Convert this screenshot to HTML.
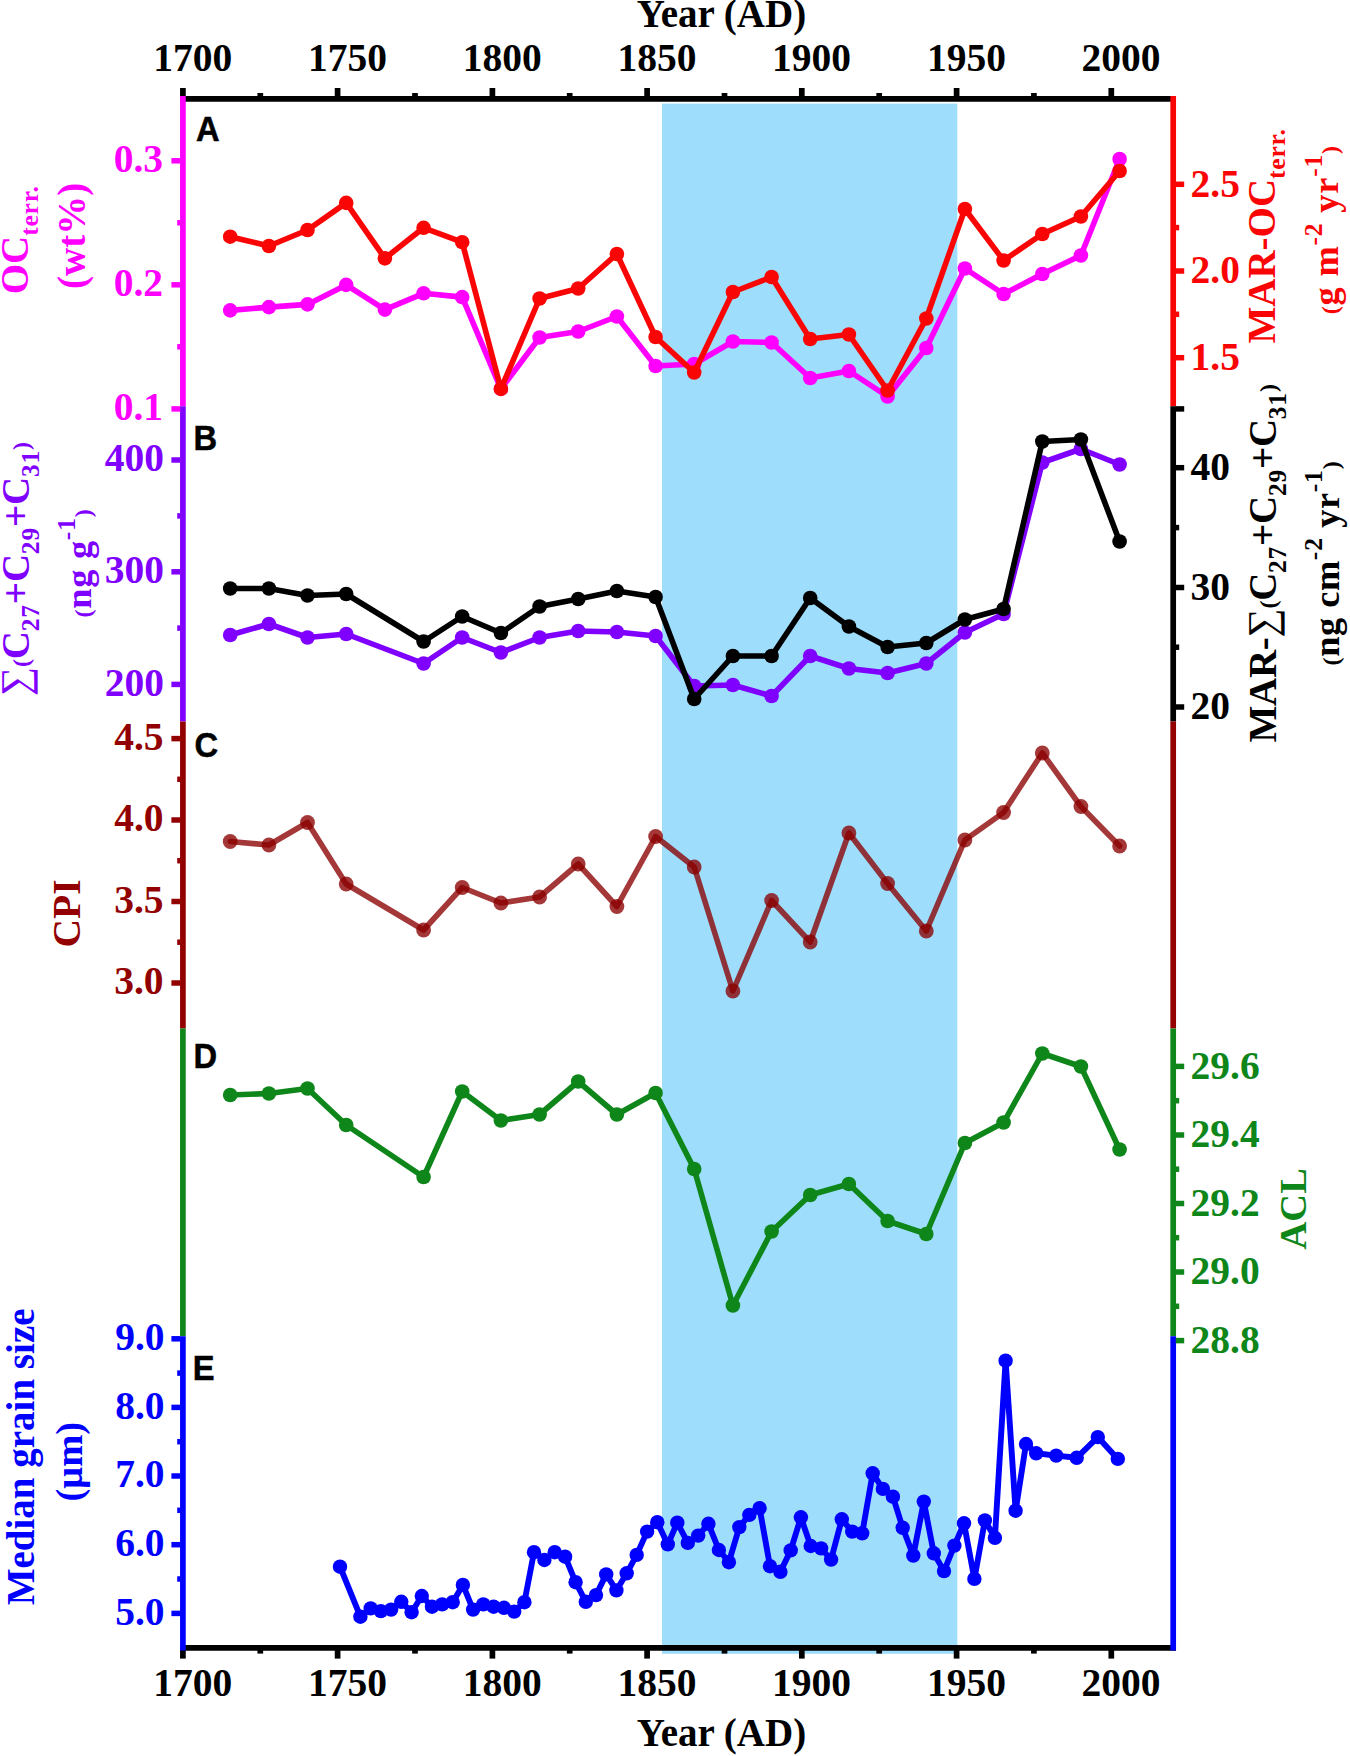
<!DOCTYPE html>
<html lang="en"><head><meta charset="utf-8"><title>Sediment core proxies vs Year (AD)</title>
<style>
html,body{margin:0;padding:0;background:#fff;}
svg{display:block;}
text{font-family:"Liberation Serif","Times New Roman",serif;font-weight:bold;}
.tk{font-size:39.5px;}
.ttl{font-size:39px;}
.pl{font-family:"Liberation Sans",Arial,sans-serif;font-weight:bold;font-size:34.8px;fill:#000;stroke:#000;stroke-width:0.5px;}
.n{font-weight:normal;}
</style></head><body>
<svg width="1350" height="1756" viewBox="0 0 1350 1756">
<rect x="0" y="0" width="1350" height="1756" fill="#ffffff"/>
<rect x="662" y="103.6" width="295.3" height="1550.2" fill="#9EDEFC"/>
<g fill="#FF00FF" stroke="none">
<polyline points="230.2,310.4 268.9,307.1 307.5,304.4 346.2,284.9 384.9,309.6 423.6,293.3 462.2,297.1 500.9,388.9 539.6,337.5 578.2,331.5 616.9,316.5 655.6,366.0 694.2,364.0 732.9,341.5 771.6,342.5 810.2,378.0 848.9,371.0 887.6,396.5 926.3,348.0 964.9,268.5 1003.6,294.0 1042.3,274.0 1080.9,255.5 1119.6,159.0" fill="none" stroke="#FF00FF" stroke-width="5.6" stroke-linejoin="round" stroke-linecap="round"/>
<circle cx="230.2" cy="310.4" r="7.3"/>
<circle cx="268.9" cy="307.1" r="7.3"/>
<circle cx="307.5" cy="304.4" r="7.3"/>
<circle cx="346.2" cy="284.9" r="7.3"/>
<circle cx="384.9" cy="309.6" r="7.3"/>
<circle cx="423.6" cy="293.3" r="7.3"/>
<circle cx="462.2" cy="297.1" r="7.3"/>
<circle cx="500.9" cy="388.9" r="7.3"/>
<circle cx="539.6" cy="337.5" r="7.3"/>
<circle cx="578.2" cy="331.5" r="7.3"/>
<circle cx="616.9" cy="316.5" r="7.3"/>
<circle cx="655.6" cy="366.0" r="7.3"/>
<circle cx="694.2" cy="364.0" r="7.3"/>
<circle cx="732.9" cy="341.5" r="7.3"/>
<circle cx="771.6" cy="342.5" r="7.3"/>
<circle cx="810.2" cy="378.0" r="7.3"/>
<circle cx="848.9" cy="371.0" r="7.3"/>
<circle cx="887.6" cy="396.5" r="7.3"/>
<circle cx="926.3" cy="348.0" r="7.3"/>
<circle cx="964.9" cy="268.5" r="7.3"/>
<circle cx="1003.6" cy="294.0" r="7.3"/>
<circle cx="1042.3" cy="274.0" r="7.3"/>
<circle cx="1080.9" cy="255.5" r="7.3"/>
<circle cx="1119.6" cy="159.0" r="7.3"/>
</g>
<g fill="#FA0505" stroke="none">
<polyline points="230.2,236.7 268.9,246.0 307.5,230.0 346.2,202.9 384.9,258.4 423.6,227.8 462.2,242.2 500.9,388.9 539.6,298.5 578.2,288.5 616.9,254.0 655.6,337.0 694.2,372.5 732.9,292.0 771.6,277.0 810.2,339.0 848.9,334.5 887.6,390.5 926.3,318.5 964.9,209.0 1003.6,260.5 1042.3,234.0 1080.9,216.5 1119.6,171.0" fill="none" stroke="#FA0505" stroke-width="5.6" stroke-linejoin="round" stroke-linecap="round"/>
<circle cx="230.2" cy="236.7" r="7.3"/>
<circle cx="268.9" cy="246.0" r="7.3"/>
<circle cx="307.5" cy="230.0" r="7.3"/>
<circle cx="346.2" cy="202.9" r="7.3"/>
<circle cx="384.9" cy="258.4" r="7.3"/>
<circle cx="423.6" cy="227.8" r="7.3"/>
<circle cx="462.2" cy="242.2" r="7.3"/>
<circle cx="500.9" cy="388.9" r="7.3"/>
<circle cx="539.6" cy="298.5" r="7.3"/>
<circle cx="578.2" cy="288.5" r="7.3"/>
<circle cx="616.9" cy="254.0" r="7.3"/>
<circle cx="655.6" cy="337.0" r="7.3"/>
<circle cx="694.2" cy="372.5" r="7.3"/>
<circle cx="732.9" cy="292.0" r="7.3"/>
<circle cx="771.6" cy="277.0" r="7.3"/>
<circle cx="810.2" cy="339.0" r="7.3"/>
<circle cx="848.9" cy="334.5" r="7.3"/>
<circle cx="887.6" cy="390.5" r="7.3"/>
<circle cx="926.3" cy="318.5" r="7.3"/>
<circle cx="964.9" cy="209.0" r="7.3"/>
<circle cx="1003.6" cy="260.5" r="7.3"/>
<circle cx="1042.3" cy="234.0" r="7.3"/>
<circle cx="1080.9" cy="216.5" r="7.3"/>
<circle cx="1119.6" cy="171.0" r="7.3"/>
</g>
<g fill="#7F00FF" stroke="none">
<polyline points="230.2,635.0 268.9,624.0 307.5,637.5 346.2,634.0 423.6,663.5 462.2,637.5 500.9,652.5 539.6,637.5 578.2,631.0 616.9,632.0 655.6,636.0 694.2,686.0 732.9,685.0 771.6,696.0 810.2,656.0 848.9,668.5 887.6,673.0 926.3,663.5 964.9,632.5 1003.6,614.0 1042.3,462.5 1080.9,449.0 1119.6,464.5" fill="none" stroke="#7F00FF" stroke-width="5.6" stroke-linejoin="round" stroke-linecap="round"/>
<circle cx="230.2" cy="635.0" r="7.3"/>
<circle cx="268.9" cy="624.0" r="7.3"/>
<circle cx="307.5" cy="637.5" r="7.3"/>
<circle cx="346.2" cy="634.0" r="7.3"/>
<circle cx="423.6" cy="663.5" r="7.3"/>
<circle cx="462.2" cy="637.5" r="7.3"/>
<circle cx="500.9" cy="652.5" r="7.3"/>
<circle cx="539.6" cy="637.5" r="7.3"/>
<circle cx="578.2" cy="631.0" r="7.3"/>
<circle cx="616.9" cy="632.0" r="7.3"/>
<circle cx="655.6" cy="636.0" r="7.3"/>
<circle cx="694.2" cy="686.0" r="7.3"/>
<circle cx="732.9" cy="685.0" r="7.3"/>
<circle cx="771.6" cy="696.0" r="7.3"/>
<circle cx="810.2" cy="656.0" r="7.3"/>
<circle cx="848.9" cy="668.5" r="7.3"/>
<circle cx="887.6" cy="673.0" r="7.3"/>
<circle cx="926.3" cy="663.5" r="7.3"/>
<circle cx="964.9" cy="632.5" r="7.3"/>
<circle cx="1003.6" cy="614.0" r="7.3"/>
<circle cx="1042.3" cy="462.5" r="7.3"/>
<circle cx="1080.9" cy="449.0" r="7.3"/>
<circle cx="1119.6" cy="464.5" r="7.3"/>
</g>
<g fill="#000000" stroke="none">
<polyline points="230.2,588.5 268.9,588.5 307.5,595.5 346.2,594.0 423.6,641.5 462.2,616.5 500.9,633.0 539.6,606.5 578.2,599.0 616.9,591.0 655.6,597.0 694.2,699.0 732.9,656.0 771.6,656.0 810.2,598.0 848.9,626.5 887.6,647.0 926.3,643.0 964.9,619.5 1003.6,609.0 1042.3,441.5 1080.9,439.5 1119.6,541.5" fill="none" stroke="#000000" stroke-width="5.6" stroke-linejoin="round" stroke-linecap="round"/>
<circle cx="230.2" cy="588.5" r="7.3"/>
<circle cx="268.9" cy="588.5" r="7.3"/>
<circle cx="307.5" cy="595.5" r="7.3"/>
<circle cx="346.2" cy="594.0" r="7.3"/>
<circle cx="423.6" cy="641.5" r="7.3"/>
<circle cx="462.2" cy="616.5" r="7.3"/>
<circle cx="500.9" cy="633.0" r="7.3"/>
<circle cx="539.6" cy="606.5" r="7.3"/>
<circle cx="578.2" cy="599.0" r="7.3"/>
<circle cx="616.9" cy="591.0" r="7.3"/>
<circle cx="655.6" cy="597.0" r="7.3"/>
<circle cx="694.2" cy="699.0" r="7.3"/>
<circle cx="732.9" cy="656.0" r="7.3"/>
<circle cx="771.6" cy="656.0" r="7.3"/>
<circle cx="810.2" cy="598.0" r="7.3"/>
<circle cx="848.9" cy="626.5" r="7.3"/>
<circle cx="887.6" cy="647.0" r="7.3"/>
<circle cx="926.3" cy="643.0" r="7.3"/>
<circle cx="964.9" cy="619.5" r="7.3"/>
<circle cx="1003.6" cy="609.0" r="7.3"/>
<circle cx="1042.3" cy="441.5" r="7.3"/>
<circle cx="1080.9" cy="439.5" r="7.3"/>
<circle cx="1119.6" cy="541.5" r="7.3"/>
</g>
<g fill="#8B0000" fill-opacity="0.78" stroke="none">
<polyline points="230.2,841.5 268.9,845.0 307.5,822.5 346.2,884.0 423.6,930.0 462.2,887.5 500.9,903.0 539.6,897.0 578.2,864.0 616.9,906.5 655.6,836.5 694.2,867.0 732.9,991.0 771.6,900.5 810.2,942.0 848.9,833.0 887.6,883.5 926.3,931.0 964.9,840.0 1003.6,812.5 1042.3,753.0 1080.9,806.5 1119.6,846.0" fill="none" stroke="#8B0000" stroke-opacity="0.78" stroke-width="5.6" stroke-linejoin="round" stroke-linecap="round"/>
<circle cx="230.2" cy="841.5" r="7.4"/>
<circle cx="268.9" cy="845.0" r="7.4"/>
<circle cx="307.5" cy="822.5" r="7.4"/>
<circle cx="346.2" cy="884.0" r="7.4"/>
<circle cx="423.6" cy="930.0" r="7.4"/>
<circle cx="462.2" cy="887.5" r="7.4"/>
<circle cx="500.9" cy="903.0" r="7.4"/>
<circle cx="539.6" cy="897.0" r="7.4"/>
<circle cx="578.2" cy="864.0" r="7.4"/>
<circle cx="616.9" cy="906.5" r="7.4"/>
<circle cx="655.6" cy="836.5" r="7.4"/>
<circle cx="694.2" cy="867.0" r="7.4"/>
<circle cx="732.9" cy="991.0" r="7.4"/>
<circle cx="771.6" cy="900.5" r="7.4"/>
<circle cx="810.2" cy="942.0" r="7.4"/>
<circle cx="848.9" cy="833.0" r="7.4"/>
<circle cx="887.6" cy="883.5" r="7.4"/>
<circle cx="926.3" cy="931.0" r="7.4"/>
<circle cx="964.9" cy="840.0" r="7.4"/>
<circle cx="1003.6" cy="812.5" r="7.4"/>
<circle cx="1042.3" cy="753.0" r="7.4"/>
<circle cx="1080.9" cy="806.5" r="7.4"/>
<circle cx="1119.6" cy="846.0" r="7.4"/>
</g>
<g fill="#0E861A" stroke="none">
<polyline points="230.2,1095.0 268.9,1093.5 307.5,1088.5 346.2,1125.0 423.6,1177.0 462.2,1091.5 500.9,1120.5 539.6,1114.5 578.2,1081.5 616.9,1114.5 655.6,1093.0 694.2,1169.0 732.9,1305.5 771.6,1231.5 810.2,1195.0 848.9,1184.0 887.6,1221.0 926.3,1234.0 964.9,1143.0 1003.6,1122.5 1042.3,1053.5 1080.9,1066.5 1119.6,1149.5" fill="none" stroke="#0E861A" stroke-width="5.6" stroke-linejoin="round" stroke-linecap="round"/>
<circle cx="230.2" cy="1095.0" r="7.3"/>
<circle cx="268.9" cy="1093.5" r="7.3"/>
<circle cx="307.5" cy="1088.5" r="7.3"/>
<circle cx="346.2" cy="1125.0" r="7.3"/>
<circle cx="423.6" cy="1177.0" r="7.3"/>
<circle cx="462.2" cy="1091.5" r="7.3"/>
<circle cx="500.9" cy="1120.5" r="7.3"/>
<circle cx="539.6" cy="1114.5" r="7.3"/>
<circle cx="578.2" cy="1081.5" r="7.3"/>
<circle cx="616.9" cy="1114.5" r="7.3"/>
<circle cx="655.6" cy="1093.0" r="7.3"/>
<circle cx="694.2" cy="1169.0" r="7.3"/>
<circle cx="732.9" cy="1305.5" r="7.3"/>
<circle cx="771.6" cy="1231.5" r="7.3"/>
<circle cx="810.2" cy="1195.0" r="7.3"/>
<circle cx="848.9" cy="1184.0" r="7.3"/>
<circle cx="887.6" cy="1221.0" r="7.3"/>
<circle cx="926.3" cy="1234.0" r="7.3"/>
<circle cx="964.9" cy="1143.0" r="7.3"/>
<circle cx="1003.6" cy="1122.5" r="7.3"/>
<circle cx="1042.3" cy="1053.5" r="7.3"/>
<circle cx="1080.9" cy="1066.5" r="7.3"/>
<circle cx="1119.6" cy="1149.5" r="7.3"/>
</g>
<g fill="#0000FF" stroke="none">
<polyline points="340.0,1566.7 360.4,1616.7 370.7,1608.4 380.9,1611.1 391.1,1609.6 401.3,1601.8 411.6,1612.2 421.8,1596.0 432.0,1606.7 442.2,1604.4 452.7,1602.2 462.9,1584.9 473.1,1609.6 483.3,1604.4 493.6,1606.7 504.0,1607.8 514.2,1611.6 524.4,1602.2 534.0,1552.2 544.4,1560.0 554.7,1552.2 565.1,1556.7 575.6,1582.2 585.8,1601.8 596.0,1595.1 606.2,1574.4 616.4,1590.4 626.7,1573.3 636.7,1554.9 647.1,1531.6 657.3,1522.2 667.8,1544.4 677.3,1522.7 687.8,1542.9 698.2,1535.6 708.4,1523.8 718.9,1550.0 728.9,1562.2 739.3,1527.1 749.3,1514.9 759.6,1508.2 770.0,1566.2 780.4,1571.8 790.7,1550.4 800.9,1517.3 810.7,1546.0 821.1,1548.4 831.1,1559.6 841.8,1519.3 852.2,1531.6 862.2,1533.3 872.7,1473.3 882.9,1488.9 892.9,1496.7 902.7,1527.8 913.3,1555.6 923.8,1501.6 933.8,1553.3 944.0,1571.1 954.4,1545.6 964.0,1523.3 974.4,1578.9 984.9,1520.4 994.9,1537.8 1005.6,1360.7 1015.6,1510.7 1026.0,1444.0 1036.2,1453.3 1056.2,1455.6 1076.7,1457.8 1097.8,1437.1 1117.8,1458.9" fill="none" stroke="#0000FF" stroke-width="5.9" stroke-linejoin="round" stroke-linecap="round"/>
<circle cx="340.0" cy="1566.7" r="7.2"/>
<circle cx="360.4" cy="1616.7" r="7.2"/>
<circle cx="370.7" cy="1608.4" r="7.2"/>
<circle cx="380.9" cy="1611.1" r="7.2"/>
<circle cx="391.1" cy="1609.6" r="7.2"/>
<circle cx="401.3" cy="1601.8" r="7.2"/>
<circle cx="411.6" cy="1612.2" r="7.2"/>
<circle cx="421.8" cy="1596.0" r="7.2"/>
<circle cx="432.0" cy="1606.7" r="7.2"/>
<circle cx="442.2" cy="1604.4" r="7.2"/>
<circle cx="452.7" cy="1602.2" r="7.2"/>
<circle cx="462.9" cy="1584.9" r="7.2"/>
<circle cx="473.1" cy="1609.6" r="7.2"/>
<circle cx="483.3" cy="1604.4" r="7.2"/>
<circle cx="493.6" cy="1606.7" r="7.2"/>
<circle cx="504.0" cy="1607.8" r="7.2"/>
<circle cx="514.2" cy="1611.6" r="7.2"/>
<circle cx="524.4" cy="1602.2" r="7.2"/>
<circle cx="534.0" cy="1552.2" r="7.2"/>
<circle cx="544.4" cy="1560.0" r="7.2"/>
<circle cx="554.7" cy="1552.2" r="7.2"/>
<circle cx="565.1" cy="1556.7" r="7.2"/>
<circle cx="575.6" cy="1582.2" r="7.2"/>
<circle cx="585.8" cy="1601.8" r="7.2"/>
<circle cx="596.0" cy="1595.1" r="7.2"/>
<circle cx="606.2" cy="1574.4" r="7.2"/>
<circle cx="616.4" cy="1590.4" r="7.2"/>
<circle cx="626.7" cy="1573.3" r="7.2"/>
<circle cx="636.7" cy="1554.9" r="7.2"/>
<circle cx="647.1" cy="1531.6" r="7.2"/>
<circle cx="657.3" cy="1522.2" r="7.2"/>
<circle cx="667.8" cy="1544.4" r="7.2"/>
<circle cx="677.3" cy="1522.7" r="7.2"/>
<circle cx="687.8" cy="1542.9" r="7.2"/>
<circle cx="698.2" cy="1535.6" r="7.2"/>
<circle cx="708.4" cy="1523.8" r="7.2"/>
<circle cx="718.9" cy="1550.0" r="7.2"/>
<circle cx="728.9" cy="1562.2" r="7.2"/>
<circle cx="739.3" cy="1527.1" r="7.2"/>
<circle cx="749.3" cy="1514.9" r="7.2"/>
<circle cx="759.6" cy="1508.2" r="7.2"/>
<circle cx="770.0" cy="1566.2" r="7.2"/>
<circle cx="780.4" cy="1571.8" r="7.2"/>
<circle cx="790.7" cy="1550.4" r="7.2"/>
<circle cx="800.9" cy="1517.3" r="7.2"/>
<circle cx="810.7" cy="1546.0" r="7.2"/>
<circle cx="821.1" cy="1548.4" r="7.2"/>
<circle cx="831.1" cy="1559.6" r="7.2"/>
<circle cx="841.8" cy="1519.3" r="7.2"/>
<circle cx="852.2" cy="1531.6" r="7.2"/>
<circle cx="862.2" cy="1533.3" r="7.2"/>
<circle cx="872.7" cy="1473.3" r="7.2"/>
<circle cx="882.9" cy="1488.9" r="7.2"/>
<circle cx="892.9" cy="1496.7" r="7.2"/>
<circle cx="902.7" cy="1527.8" r="7.2"/>
<circle cx="913.3" cy="1555.6" r="7.2"/>
<circle cx="923.8" cy="1501.6" r="7.2"/>
<circle cx="933.8" cy="1553.3" r="7.2"/>
<circle cx="944.0" cy="1571.1" r="7.2"/>
<circle cx="954.4" cy="1545.6" r="7.2"/>
<circle cx="964.0" cy="1523.3" r="7.2"/>
<circle cx="974.4" cy="1578.9" r="7.2"/>
<circle cx="984.9" cy="1520.4" r="7.2"/>
<circle cx="994.9" cy="1537.8" r="7.2"/>
<circle cx="1005.6" cy="1360.7" r="7.2"/>
<circle cx="1015.6" cy="1510.7" r="7.2"/>
<circle cx="1026.0" cy="1444.0" r="7.2"/>
<circle cx="1036.2" cy="1453.3" r="7.2"/>
<circle cx="1056.2" cy="1455.6" r="7.2"/>
<circle cx="1076.7" cy="1457.8" r="7.2"/>
<circle cx="1097.8" cy="1437.1" r="7.2"/>
<circle cx="1117.8" cy="1458.9" r="7.2"/>
</g>
<g stroke="#000" stroke-width="5.7" fill="none">
<line x1="180.1" y1="98.9" x2="1176.0" y2="98.9"/>
<line x1="180.1" y1="1647.9" x2="1176.0" y2="1647.9"/>
<line x1="182.9" y1="98.9" x2="182.9" y2="88.0"/>
<line x1="182.9" y1="1647.9" x2="182.9" y2="1658.6"/>
<line x1="260.3" y1="98.9" x2="260.3" y2="93.0"/>
<line x1="260.3" y1="1647.9" x2="260.3" y2="1653.6"/>
<line x1="337.6" y1="98.9" x2="337.6" y2="88.0"/>
<line x1="337.6" y1="1647.9" x2="337.6" y2="1658.6"/>
<line x1="415.0" y1="98.9" x2="415.0" y2="93.0"/>
<line x1="415.0" y1="1647.9" x2="415.0" y2="1653.6"/>
<line x1="492.4" y1="98.9" x2="492.4" y2="88.0"/>
<line x1="492.4" y1="1647.9" x2="492.4" y2="1658.6"/>
<line x1="569.7" y1="98.9" x2="569.7" y2="93.0"/>
<line x1="569.7" y1="1647.9" x2="569.7" y2="1653.6"/>
<line x1="647.1" y1="98.9" x2="647.1" y2="88.0"/>
<line x1="647.1" y1="1647.9" x2="647.1" y2="1658.6"/>
<line x1="724.5" y1="98.9" x2="724.5" y2="93.0"/>
<line x1="724.5" y1="1647.9" x2="724.5" y2="1653.6"/>
<line x1="801.8" y1="98.9" x2="801.8" y2="88.0"/>
<line x1="801.8" y1="1647.9" x2="801.8" y2="1658.6"/>
<line x1="879.2" y1="98.9" x2="879.2" y2="93.0"/>
<line x1="879.2" y1="1647.9" x2="879.2" y2="1653.6"/>
<line x1="956.6" y1="98.9" x2="956.6" y2="88.0"/>
<line x1="956.6" y1="1647.9" x2="956.6" y2="1658.6"/>
<line x1="1033.9" y1="98.9" x2="1033.9" y2="93.0"/>
<line x1="1033.9" y1="1647.9" x2="1033.9" y2="1653.6"/>
<line x1="1111.3" y1="98.9" x2="1111.3" y2="88.0"/>
<line x1="1111.3" y1="1647.9" x2="1111.3" y2="1658.6"/>
</g>
<line x1="182.9" y1="96.0" x2="182.9" y2="406.2" stroke="#FF00FF" stroke-width="5.7"/>
<line x1="1173.2" y1="96.0" x2="1173.2" y2="406.2" stroke="#FA0505" stroke-width="5.7"/>
<line x1="182.9" y1="406.2" x2="182.9" y2="721.6" stroke="#7F00FF" stroke-width="5.7"/>
<line x1="1173.2" y1="406.2" x2="1173.2" y2="721.6" stroke="#000000" stroke-width="5.7"/>
<line x1="182.9" y1="721.6" x2="182.9" y2="1028.4" stroke="#920000" stroke-width="5.7"/>
<line x1="1173.2" y1="721.6" x2="1173.2" y2="1028.4" stroke="#920000" stroke-width="5.7"/>
<line x1="182.9" y1="1028.4" x2="182.9" y2="1336.2" stroke="#0E861A" stroke-width="5.7"/>
<line x1="1173.2" y1="1028.4" x2="1173.2" y2="1336.2" stroke="#0E861A" stroke-width="5.7"/>
<line x1="182.9" y1="1336.2" x2="182.9" y2="1650.6" stroke="#0000FF" stroke-width="5.7"/>
<line x1="1173.2" y1="1336.2" x2="1173.2" y2="1650.6" stroke="#0000FF" stroke-width="5.7"/>
<g stroke="#FF00FF" stroke-width="5.5">
<line x1="171.4" y1="160.8" x2="180.3" y2="160.8"/>
<line x1="171.4" y1="284.8" x2="180.3" y2="284.8"/>
<line x1="171.4" y1="408.9" x2="180.3" y2="408.9"/>
<line x1="177.2" y1="222.8" x2="180.3" y2="222.8"/>
<line x1="177.2" y1="346.8" x2="180.3" y2="346.8"/>
</g>
<g class="tk" fill="#FF00FF" text-anchor="end">
<text x="163.0" y="172.1">0.3</text>
<text x="163.0" y="296.1">0.2</text>
<text x="163.0" y="420.2">0.1</text>
</g>
<g stroke="#7F00FF" stroke-width="5.5">
<line x1="171.4" y1="460.0" x2="180.3" y2="460.0"/>
<line x1="171.4" y1="571.8" x2="180.3" y2="571.8"/>
<line x1="171.4" y1="684.4" x2="180.3" y2="684.4"/>
<line x1="177.2" y1="515.9" x2="180.3" y2="515.9"/>
<line x1="177.2" y1="628.1" x2="180.3" y2="628.1"/>
</g>
<g class="tk" fill="#7F00FF" text-anchor="end">
<text x="164.0" y="471.3">400</text>
<text x="164.0" y="583.1">300</text>
<text x="164.0" y="695.7">200</text>
</g>
<g stroke="#920000" stroke-width="5.5">
<line x1="171.4" y1="738.6" x2="180.3" y2="738.6"/>
<line x1="171.4" y1="820.0" x2="180.3" y2="820.0"/>
<line x1="171.4" y1="901.5" x2="180.3" y2="901.5"/>
<line x1="171.4" y1="983.0" x2="180.3" y2="983.0"/>
<line x1="177.2" y1="779.3" x2="180.3" y2="779.3"/>
<line x1="177.2" y1="860.7" x2="180.3" y2="860.7"/>
<line x1="177.2" y1="942.2" x2="180.3" y2="942.2"/>
</g>
<g class="tk" fill="#920000" text-anchor="end">
<text x="163.5" y="749.9">4.5</text>
<text x="163.5" y="831.3">4.0</text>
<text x="163.5" y="912.8">3.5</text>
<text x="163.5" y="994.3">3.0</text>
</g>
<g stroke="#0000FF" stroke-width="5.5">
<line x1="171.4" y1="1338.8" x2="180.3" y2="1338.8"/>
<line x1="171.4" y1="1407.4" x2="180.3" y2="1407.4"/>
<line x1="171.4" y1="1476.0" x2="180.3" y2="1476.0"/>
<line x1="171.4" y1="1544.7" x2="180.3" y2="1544.7"/>
<line x1="171.4" y1="1613.4" x2="180.3" y2="1613.4"/>
<line x1="177.2" y1="1373.1" x2="180.3" y2="1373.1"/>
<line x1="177.2" y1="1441.7" x2="180.3" y2="1441.7"/>
<line x1="177.2" y1="1510.3" x2="180.3" y2="1510.3"/>
<line x1="177.2" y1="1579.0" x2="180.3" y2="1579.0"/>
</g>
<g class="tk" fill="#0000FF" text-anchor="end">
<text x="164.6" y="1350.1">9.0</text>
<text x="164.6" y="1418.7">8.0</text>
<text x="164.6" y="1487.3">7.0</text>
<text x="164.6" y="1556.0">6.0</text>
<text x="164.6" y="1624.7">5.0</text>
</g>
<g stroke="#FA0505" stroke-width="5.5">
<line x1="1175.8" y1="184.3" x2="1184.2" y2="184.3"/>
<line x1="1175.8" y1="271.0" x2="1184.2" y2="271.0"/>
<line x1="1175.8" y1="357.7" x2="1184.2" y2="357.7"/>
<line x1="1175.8" y1="227.6" x2="1179.2" y2="227.6"/>
<line x1="1175.8" y1="314.3" x2="1179.2" y2="314.3"/>
</g>
<g class="tk" fill="#FA0505" text-anchor="start">
<text x="1190.5" y="196.5">2.5</text>
<text x="1190.5" y="283.2">2.0</text>
<text x="1190.5" y="369.9">1.5</text>
</g>
<g stroke="#000000" stroke-width="5.5">
<line x1="1175.8" y1="467.7" x2="1184.2" y2="467.7"/>
<line x1="1175.8" y1="587.5" x2="1184.2" y2="587.5"/>
<line x1="1175.8" y1="707.0" x2="1184.2" y2="707.0"/>
<line x1="1175.8" y1="408.9" x2="1184.2" y2="408.9"/>
<line x1="1175.8" y1="527.6" x2="1179.2" y2="527.6"/>
<line x1="1175.8" y1="647.2" x2="1179.2" y2="647.2"/>
</g>
<g class="tk" fill="#000000" text-anchor="start">
<text x="1190.5" y="479.9">40</text>
<text x="1190.5" y="599.7">30</text>
<text x="1190.5" y="719.2">20</text>
</g>
<g stroke="#0E861A" stroke-width="5.5">
<line x1="1175.8" y1="1066.4" x2="1184.2" y2="1066.4"/>
<line x1="1175.8" y1="1135.0" x2="1184.2" y2="1135.0"/>
<line x1="1175.8" y1="1203.5" x2="1184.2" y2="1203.5"/>
<line x1="1175.8" y1="1272.0" x2="1184.2" y2="1272.0"/>
<line x1="1175.8" y1="1340.6" x2="1184.2" y2="1340.6"/>
<line x1="1175.8" y1="1100.7" x2="1179.2" y2="1100.7"/>
<line x1="1175.8" y1="1169.2" x2="1179.2" y2="1169.2"/>
<line x1="1175.8" y1="1237.7" x2="1179.2" y2="1237.7"/>
<line x1="1175.8" y1="1306.3" x2="1179.2" y2="1306.3"/>
</g>
<g class="tk" fill="#0E861A" text-anchor="start">
<text x="1190.5" y="1078.6">29.6</text>
<text x="1190.5" y="1147.2">29.4</text>
<text x="1190.5" y="1215.7">29.2</text>
<text x="1190.5" y="1284.2">29.0</text>
<text x="1190.5" y="1352.8">28.8</text>
</g>
<g class="tk" fill="#000" text-anchor="middle">
<text x="192.7" y="70.8">1700</text>
<text x="192.7" y="1696.2">1700</text>
<text x="347.4" y="70.8">1750</text>
<text x="347.4" y="1696.2">1750</text>
<text x="502.2" y="70.8">1800</text>
<text x="502.2" y="1696.2">1800</text>
<text x="656.9" y="70.8">1850</text>
<text x="656.9" y="1696.2">1850</text>
<text x="811.6" y="70.8">1900</text>
<text x="811.6" y="1696.2">1900</text>
<text x="966.4" y="70.8">1950</text>
<text x="966.4" y="1696.2">1950</text>
<text x="1121.1" y="70.8">2000</text>
<text x="1121.1" y="1696.2">2000</text>
</g>
<text x="721.5" y="26.5" text-anchor="middle" fill="#000" style="font-size:39px">Year (AD)</text>
<text x="721.5" y="1745.6" text-anchor="middle" fill="#000" style="font-size:39px">Year (AD)</text>
<text class="pl" transform="translate(196.0,141.1) scale(0.94,1)">A</text>
<text class="pl" transform="translate(193.5,450.3) scale(0.94,1)">B</text>
<text class="pl" transform="translate(194.6,756.6) scale(0.94,1)">C</text>
<text class="pl" transform="translate(193.5,1067.9) scale(0.94,1)">D</text>
<text class="pl" transform="translate(192.8,1379.7) scale(0.94,1)">E</text>
<text transform="translate(28.2,239.8) rotate(-90)" text-anchor="middle" fill="#FF00FF" style="font-size:39px"><tspan>OC</tspan><tspan dy="10" style="font-size:25.5px;letter-spacing:0.8px">terr.</tspan></text>
<text transform="translate(85.0,235.9) rotate(-90)" text-anchor="middle" fill="#FF00FF" style="font-size:39px"><tspan>(wt%)</tspan></text>
<text transform="translate(1275.4,236.0) rotate(-90)" text-anchor="middle" fill="#FA0505" style="font-size:39px"><tspan>MAR-OC</tspan><tspan dy="10" style="font-size:25.5px;letter-spacing:0.8px">terr.</tspan></text>
<text transform="translate(1338.0,229.7) rotate(-90)" text-anchor="middle" fill="#FA0505" style="font-size:36.4px;letter-spacing:0.8px"><tspan style="font-size:24px">(</tspan><tspan>g m</tspan><tspan dy="-16.5" style="font-size:25.5px;letter-spacing:0.8px">-2</tspan><tspan dy="16.5"> yr</tspan><tspan dy="-16.5" style="font-size:25.5px;letter-spacing:0.8px">-1</tspan><tspan dy="16.5" style="font-size:24px">)</tspan></text>
<text transform="translate(29.0,569.1) rotate(-90)" text-anchor="middle" fill="#7F00FF" style="font-size:39px;letter-spacing:-0.2px"><tspan style="font-weight:normal;font-size:41px">∑</tspan><tspan style="font-size:24px">(</tspan><tspan>C</tspan><tspan dy="10" style="font-size:25.5px;letter-spacing:0.8px">27</tspan><tspan dy="-10">+C</tspan><tspan dy="10" style="font-size:25.5px;letter-spacing:0.8px">29</tspan><tspan dy="-10">+C</tspan><tspan dy="10" style="font-size:25.5px;letter-spacing:0.8px">31</tspan><tspan dy="-10" style="font-size:24px">)</tspan></text>
<text transform="translate(91.0,563.0) rotate(-90)" text-anchor="middle" fill="#7F00FF" style="font-size:36.4px;letter-spacing:0.7px"><tspan style="font-size:24px">(</tspan><tspan>ng g</tspan><tspan dy="-16.5" style="font-size:25.5px;letter-spacing:0.8px">-1</tspan><tspan dy="16.5" style="font-size:24px">)</tspan></text>
<text transform="translate(1276.4,563.4) rotate(-90)" text-anchor="middle" fill="#000000" style="font-size:39px;letter-spacing:-0.3px"><tspan>MAR-</tspan><tspan style="font-weight:normal;font-size:41px">∑</tspan><tspan style="font-size:24px">(</tspan><tspan>C</tspan><tspan dy="10" style="font-size:25.5px;letter-spacing:0.8px">27</tspan><tspan dy="-10">+C</tspan><tspan dy="10" style="font-size:25.5px;letter-spacing:0.8px">29</tspan><tspan dy="-10">+C</tspan><tspan dy="10" style="font-size:25.5px;letter-spacing:0.8px">31</tspan><tspan dy="-10" style="font-size:24px">)</tspan></text>
<text transform="translate(1338.5,563.1) rotate(-90)" text-anchor="middle" fill="#000000" style="font-size:36.4px;letter-spacing:0.55px"><tspan style="font-size:24px">(</tspan><tspan>ng cm</tspan><tspan dy="-16.5" style="font-size:25.5px;letter-spacing:0.8px">-2</tspan><tspan dy="16.5"> yr</tspan><tspan dy="-16.5" style="font-size:25.5px;letter-spacing:0.8px">-1</tspan><tspan dy="16.5" style="font-size:24px">)</tspan></text>
<text transform="translate(79.9,913.5) rotate(-90)" text-anchor="middle" fill="#920000" style="font-size:39.5px"><tspan>CPI</tspan></text>
<text transform="translate(1306.0,1208.8) rotate(-90)" text-anchor="middle" fill="#0E861A" style="font-size:38.5px"><tspan>ACL</tspan></text>
<text transform="translate(33.5,1456.9) rotate(-90)" text-anchor="middle" fill="#0000FF" style="font-size:39px"><tspan>Median grain size</tspan></text>
<text transform="translate(82.0,1461.7) rotate(-90)" text-anchor="middle" fill="#0000FF" style="font-size:38.5px"><tspan>(μm)</tspan></text>
</svg>
</body></html>
